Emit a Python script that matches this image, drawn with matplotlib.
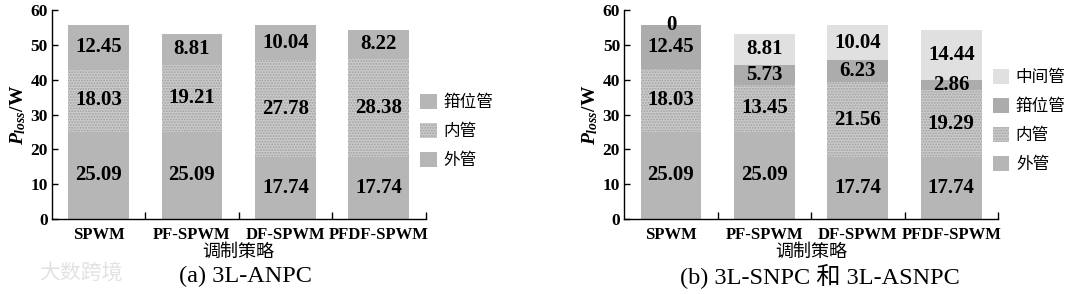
import numpy as np
import matplotlib
matplotlib.use("Agg")
import matplotlib.pyplot as plt
from matplotlib.patches import Patch

plt.rcParams['font.family'] = ['Liberation Serif', 'Noto Sans CJK SC']
plt.rcParams['mathtext.fontset'] = 'custom'
plt.rcParams['mathtext.it'] = 'Liberation Serif:italic:bold'
plt.rcParams['mathtext.rm'] = 'Liberation Serif:bold'
plt.rcParams['hatch.color'] = '#a2a2a2'
plt.rcParams['hatch.linewidth'] = 0.9

categories = ["SPWM", "PF-SPWM", "DF-SPWM", "PFDF-SPWM"]

# (a) 3L-ANPC
a_outer = [25.09, 25.09, 17.74, 17.74]
a_inner = [18.03, 19.21, 27.78, 28.38]
a_clamp = [12.45, 8.81, 10.04, 8.22]

# (b) 3L-SNPC / 3L-ASNPC
b_outer = [25.09, 25.09, 17.74, 17.74]
b_inner = [18.03, 13.45, 21.56, 19.29]
b_clamp = [12.45, 5.73, 6.23, 2.86]
b_middle = [0, 8.81, 10.04, 14.44]

c_outer = '#b6b6b6'
c_inner = '#cacaca'
c_clamp_a = '#b6b6b6'
c_clamp_b = '#acacac'
c_middle = '#e0e0e0'
dots = '......'

fig = plt.figure(figsize=(10.8, 2.94), dpi=100)
ax1 = fig.add_axes([0.048, 0.255, 0.346, 0.711])
ax2 = fig.add_axes([0.578, 0.255, 0.346, 0.711])

x = np.arange(len(categories))
w = 0.65


def draw(ax, series):
    bottom = np.zeros(len(categories))
    for vals, color, hatch in series:
        ax.bar(x, vals, w, bottom=bottom, color=color, hatch=hatch, linewidth=0)
        for xi, b, v in zip(x, bottom, vals):
            ax.text(xi, b + v / 2, f"{v:.2f}" if v else "0", ha='center', va='center',
                    fontsize=15, fontweight='bold')
        bottom += np.array(vals)
    ax.set_xlim(-0.5, 3.5)
    ax.set_ylim(0, 60)
    ax.set_yticks(range(0, 61, 10))
    ax.set_xticks(x)
    ax.set_xticklabels(categories, fontsize=12, fontweight='bold')
    ax.set_xticks(np.arange(0.5, 4, 1), minor=True)
    ax.tick_params(axis='x', which='major', length=0, pad=6)
    ax.tick_params(axis='x', which='minor', direction='in', length=5, width=1)
    ax.tick_params(axis='y', direction='in', length=4, width=1, pad=3, labelsize=12.5)
    for lab in ax.get_yticklabels():
        lab.set_fontweight('bold')
    for s in ['top', 'right']:
        ax.spines[s].set_visible(False)
    ax.spines['left'].set_linewidth(1)
    ax.spines['bottom'].set_linewidth(1)
    ax.set_ylabel(r'$P_{loss}$/W', fontsize=14, fontweight='bold', labelpad=2)
    ax.set_xlabel('调制策略', fontsize=13, labelpad=0,
                  family=['Noto Sans CJK SC', 'Liberation Serif'])


draw(ax1, [(a_outer, c_outer, None), (a_inner, c_inner, dots), (a_clamp, c_clamp_a, None)])
draw(ax2, [(b_outer, c_outer, None), (b_inner, c_inner, dots), (b_clamp, c_clamp_b, None),
           (b_middle, c_middle, None)])

cjk = {'family': ['Noto Sans CJK SC', 'Liberation Serif'], 'size': 12}

h1 = [Patch(facecolor=c_clamp_a, label='箝位管'),
      Patch(facecolor=c_inner, hatch=dots, label='内管'),
      Patch(facecolor=c_outer, label='外管')]
fig.legend(handles=h1, loc='upper left', bbox_to_anchor=(0.389, 0.68), frameon=False,
           prop=cjk, handlelength=1.0, handleheight=1.0, handletextpad=0.4,
           labelspacing=0.7, borderpad=0, borderaxespad=0)

h2 = [Patch(facecolor=c_middle, label='中间管'),
      Patch(facecolor=c_clamp_b, label='箝位管'),
      Patch(facecolor=c_inner, hatch=dots, label='内管'),
      Patch(facecolor=c_outer, label='外管')]
fig.legend(handles=h2, loc='upper left', bbox_to_anchor=(0.919, 0.765), frameon=False,
           prop=cjk, handlelength=1.0, handleheight=1.0, handletextpad=0.4,
           labelspacing=0.7, borderpad=0, borderaxespad=0)

fig.text(0.227, 0.058, '(a) 3L-ANPC', ha='center', va='center', fontsize=17.5,
         family=['Liberation Serif', 'Noto Sans CJK SC'])
fig.text(0.759, 0.058, '(b) 3L-SNPC 和 3L-ASNPC', ha='center', va='center', fontsize=17.5,
         family=['Liberation Serif', 'Noto Sans CJK SC'])
fig.text(0.075, 0.07, '大数跨境', ha='center', va='center', fontsize=15, color='#e2e2e2',
         family=['Noto Sans CJK SC'])

fig.savefig('out.png', dpi=100)
